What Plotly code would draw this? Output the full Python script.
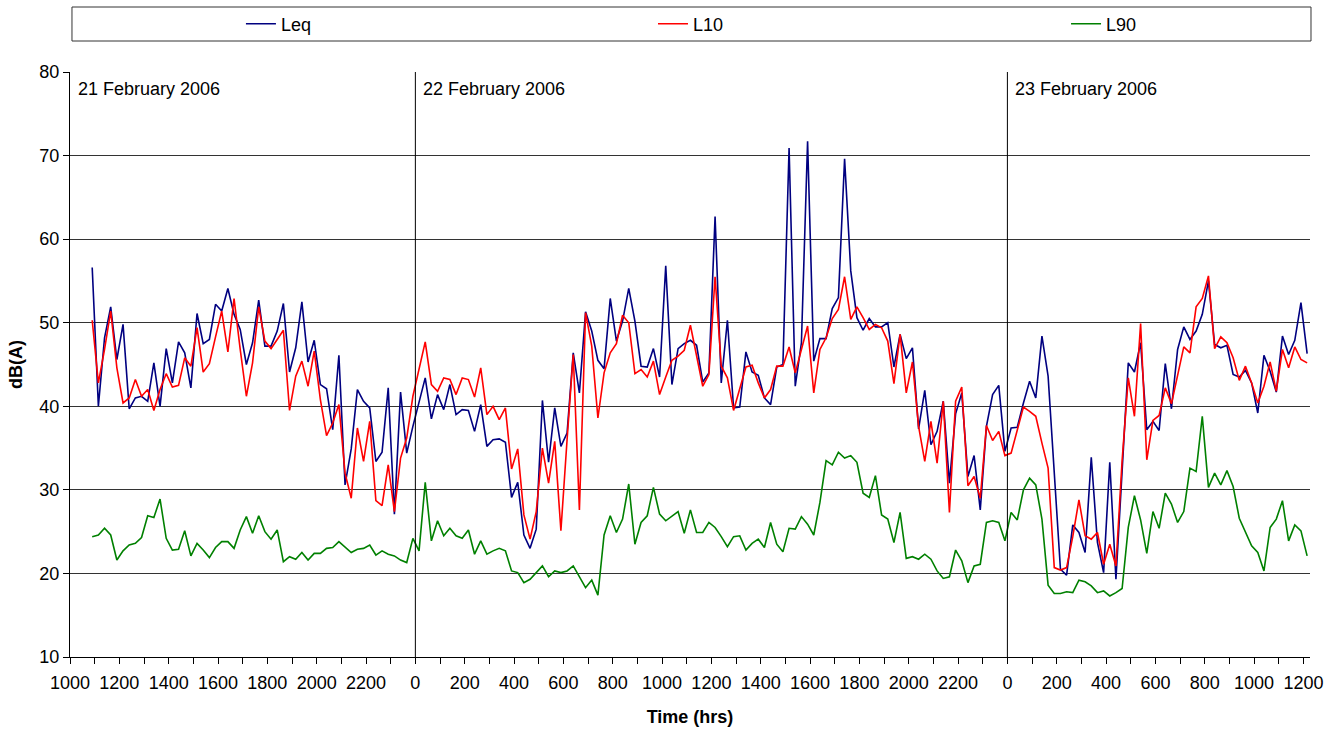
import pandas as pd
import plotly.graph_objects as go

# ---- data (15-minute readings) ----
START = "2006-02-21 10:54"
INTERVAL = "15min"

leq = [56.6, 40.0, 48.2, 51.9, 45.6, 49.8, 39.7, 41.0, 41.2, 40.6, 45.2, 40.0, 46.9, 42.8, 47.7, 46.4, 42.2,
       51.1, 47.5, 48.0, 52.2, 51.4, 54.1, 51.0, 49.2, 45.0, 47.6, 52.7, 47.2, 47.2, 49.0, 52.3, 44.1,
       47.0, 52.5, 45.3, 47.9, 42.6, 42.1, 37.2, 46.1, 30.6, 34.9, 42.0, 40.6, 39.8, 33.4, 34.5, 42.2,
       27.1, 41.7, 34.4, 37.6, 40.4, 43.4, 38.5, 41.4, 39.6, 42.6, 39.0, 39.6, 39.5, 37.0, 40.2, 35.2,
       36.0, 36.1,
       35.7, 29.1, 30.9, 24.6, 23.0, 25.3, 40.7, 33.3, 39.8, 35.2, 36.8, 46.4, 41.6, 51.3, 49.0, 45.5,
       44.5, 52.9, 47.8, 50.2, 54.1, 50.2, 44.8, 44.7, 46.9, 43.5, 56.8, 42.6, 46.9, 47.5, 47.9, 47.3,
       42.9, 44.0,
       62.7, 42.8, 50.3, 39.8, 39.9, 46.5, 44.1, 43.7, 41.0, 40.2, 44.7, 45.0, 70.9, 42.4, 47.6, 71.7,
       45.4, 48.1, 48.1, 51.7, 53.0, 69.6, 56.2, 50.6, 49.1, 50.5, 49.5, 49.5, 50.0, 44.7, 48.6, 45.7,
       47.0, 37.3, 41.9, 35.4, 37.0, 40.6, 30.8, 39.1, 41.6, 31.6, 34.1, 27.6, 37.6, 41.4, 42.5, 34.6,
       37.4, 37.5, 40.4, 43.0, 41.0, 48.4, 43.6, 31.6, 20.5, 19.8, 25.8, 24.9, 22.5, 33.9, 23.7, 20.1,
       33.3,
       19.3, 31.6, 45.2, 44.1, 47.6, 37.2, 38.2, 37.1, 45.1, 39.7, 46.8, 49.5, 48.0, 49.0, 51.0, 55.0,
       47.4, 47.0, 47.3, 43.8, 43.5, 44.3, 42.8, 39.2, 46.1, 44.2, 41.7, 48.4, 46.2, 47.9, 52.4, 46.3]

l10 = [50.3, 42.8, 46.8, 51.4, 44.6, 40.4, 41.0, 43.2, 41.2, 42.0, 39.5, 42.0, 43.9, 42.3, 42.5, 45.8, 44.8,
       49.4, 44.1, 45.1, 48.3, 51.4, 46.5, 52.9, 46.8, 41.2, 45.2, 51.9, 47.8, 46.9, 48.0, 49.1, 39.5,
       43.6, 45.4, 42.4, 46.6, 40.8, 36.5, 38.0, 40.2, 32.0, 29.0, 37.4, 33.4, 38.2, 28.7, 28.1, 33.0,
       27.4, 33.8, 36.2, 41.2, 44.6, 47.7, 42.6, 41.8, 43.4, 43.2, 41.4, 43.4, 43.2, 41.1, 44.6, 39.0,
       40.0, 38.4,
       39.8, 32.5, 34.9, 27.0, 24.1, 27.4, 35.0, 30.8, 35.8, 25.1, 36.0, 46.2, 27.6, 51.2, 47.2, 38.6,
       44.0, 46.4, 47.5, 50.9, 50.0, 43.9, 44.4, 43.5, 45.4, 41.4, 43.5, 45.5, 46.0, 46.7, 49.7, 46.0,
       42.4, 43.8,
       55.5, 44.8, 43.4, 39.5, 42.2, 44.7, 44.9, 42.8, 41.0, 42.0, 44.8, 44.8, 47.1, 44.0, 46.8, 49.6,
       41.6, 46.8, 48.2, 50.5, 51.6, 55.5, 50.4, 51.9, 50.6, 49.2, 49.8, 49.4, 47.8, 42.7, 48.6, 41.6,
       45.3, 37.6, 33.4, 38.2, 33.2, 40.6, 27.3, 40.6, 42.3, 30.5, 31.6, 29.0, 37.7, 35.9, 37.0, 34.1,
       34.4, 37.2, 39.9, 39.4, 38.8, 35.6, 32.6, 20.7, 20.4, 20.7, 24.4, 28.8, 24.5, 24.1, 24.9, 21.1,
       23.5,
       20.9, 33.5, 43.4, 38.8, 49.9, 33.6, 38.3, 38.9, 42.2, 40.3, 43.7, 47.1, 46.4, 51.9, 52.9, 55.6,
       46.9, 48.3, 47.6, 45.8, 43.1, 44.8, 42.8, 40.4, 42.4, 45.3, 41.8, 46.8, 44.6, 47.1, 45.6, 45.2]

l90 = [24.4, 24.6, 25.4, 24.6, 21.6, 22.7, 23.4, 23.6, 24.3, 26.9, 26.7, 28.9, 24.2, 22.8, 22.9, 25.1, 22.1,
       23.6, 22.8, 21.9, 23.1, 23.8, 23.8, 23.0, 25.2, 26.8, 24.8, 26.9, 25.0, 24.1, 25.2, 21.4, 22.0,
       21.7, 22.5, 21.6, 22.4, 22.4, 23.0, 23.1, 23.8, 23.2, 22.5, 22.9, 23.0, 23.4, 22.2, 22.7, 22.3,
       22.1, 21.6, 21.3, 24.2, 22.7, 30.9, 23.9, 26.3, 24.5, 25.4, 24.5, 24.2, 25.2, 22.3, 23.9, 22.3,
       22.7, 23.0,
       22.7, 20.3, 20.1, 18.9, 19.3, 20.1, 20.9, 19.6, 20.3, 20.1, 20.3, 20.9, 19.6, 18.3, 19.2, 17.4,
       24.6, 26.9, 24.9, 26.5, 30.7, 23.5, 26.1, 26.9, 30.3, 27.1, 26.3, 26.9, 27.4, 24.8, 27.6, 24.9,
       24.9, 26.1,
       25.5, 24.4, 23.2, 24.4, 24.5, 22.8, 23.6, 24.1, 23.1, 26.1, 23.5, 22.6, 25.4, 25.3, 26.8, 25.9,
       24.6, 28.5, 33.5, 33.0, 34.5, 33.8, 34.1, 33.3, 29.6, 29.1, 31.7, 27.0, 26.5, 23.7, 27.3, 21.8,
       22.0, 21.7, 22.3, 21.7, 20.3, 19.4, 19.6, 22.8, 21.5, 18.9, 20.9, 21.1, 26.1, 26.3, 26.1, 23.9,
       27.3, 26.4, 30.0, 31.4, 30.6, 26.5, 18.6, 17.6, 17.6, 17.8, 17.7, 19.2, 19.0, 18.5, 17.7, 17.9,
       17.3,
       17.7, 18.2, 25.5, 29.3, 26.4, 22.4, 27.4, 25.4, 29.6, 28.3, 26.1, 27.4, 32.6, 32.2, 38.8, 30.3,
       32.0, 30.6, 32.3, 30.4, 26.6, 24.9, 23.3, 22.5, 20.3, 25.5, 26.5, 28.7, 23.9, 25.8, 25.1, 22.1]

series_names = ["Leq", "L10", "L90"]
series_colors = ["#000080", "#FF0000", "#008000"]

day_starts = ["2006-02-21 10:00", "2006-02-22 00:00", "2006-02-23 00:00"]
day_labels = ["21 February 2006", "22 February 2006", "23 February 2006"]

X_START = "2006-02-21 10:00"
X_END = "2006-02-23 12:16"
TICK_END = "2006-02-23 12:00"

times = pd.date_range(START, periods=len(leq), freq=INTERVAL)
tick_times = pd.date_range(X_START, TICK_END, freq="1h")
tick_text = [str(t.hour * 100) if t.hour % 2 == 0 else "" for t in tick_times]

FONT = "Arial, 'Liberation Sans', sans-serif"

fig = go.Figure()
legend_ids = ["legend", "legend2", "legend3"]
for name, vals, col, lid in zip(series_names, [leq, l10, l90], series_colors, legend_ids):
    fig.add_trace(go.Scatter(x=times, y=vals, mode="lines", name=name, showlegend=True,
                             line=dict(color=col, width=1.6), legend=lid))

# day separators
for d in day_starts[1:]:
    fig.add_shape(type="line", xref="x", yref="paper", x0=d, x1=d, y0=0, y1=1,
                  line=dict(color="black", width=1))

# day labels
for d, lab in zip(day_starts, day_labels):
    fig.add_annotation(x=d, y=1, xref="x", yref="paper", text=lab, showarrow=False,
                       xanchor="left", yanchor="top", xshift=6, yshift=-5,
                       font=dict(family=FONT, size=18, color="black"))

# legend box
fig.add_shape(type="rect", xref="paper", yref="paper",
              x0=0.0016, x1=1.0008, y0=1 + 31 / 585, y1=1 + 65 / 585,
              line=dict(color="#333333", width=1), fillcolor="rgba(0,0,0,0)")

leg_common = dict(orientation="h", xanchor="center", yanchor="middle", y=1 + 48 / 585,
                  bgcolor="rgba(0,0,0,0)", borderwidth=0,
                  font=dict(family=FONT, size=18, color="black"))
fig.update_layout(
    width=1343, height=729,
    margin=dict(l=70, r=33, t=72, b=72, autoexpand=False),
    paper_bgcolor="white", plot_bgcolor="white",
    showlegend=True,
    font=dict(family=FONT, size=18, color="black"),
    legend=dict(x=0.1685, **leg_common),
    legend2=dict(x=0.5008, **leg_common),
    legend3=dict(x=0.8339, **leg_common),
    xaxis=dict(type="date", range=[X_START, X_END], tickmode="array",
               tickvals=tick_times, ticktext=tick_text,
               ticks="outside", ticklen=6, tickcolor="black", tickwidth=1,
               ticklabelstandoff=3,
               showline=True, linecolor="black", linewidth=1, showgrid=False,
               zeroline=False, tickfont=dict(family=FONT, size=18, color="black"),
               title=dict(text="Time (hrs)", standoff=18,
                          font=dict(family=FONT, size=18, color="black", weight="bold"))),
    yaxis=dict(range=[10, 80], tickmode="linear", tick0=10, dtick=10,
               ticks="outside", ticklen=6, tickcolor="black", tickwidth=1,
               showline=True, linecolor="black", linewidth=1,
               showgrid=True, gridcolor="#333333", gridwidth=1, zeroline=False,
               tickfont=dict(family=FONT, size=18, color="black"),
               title=dict(text="dB(A)", standoff=12,
                          font=dict(family=FONT, size=18, color="black", weight="bold"))),
)

fig.write_html("out.html")
